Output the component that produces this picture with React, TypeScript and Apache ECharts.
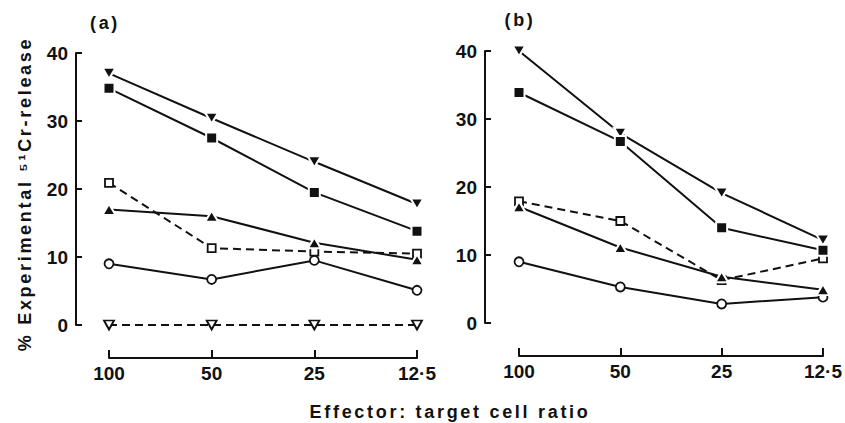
import React, { useEffect, useRef } from "react";
import * as echarts from "echarts";

const categories = ["100", "50", "25", "12·5"];

// Panel (a)
const aFilledDown = [37.0, 30.4, 24.0, 17.8];
const aFilledSquare = [34.8, 27.5, 19.5, 13.8];
const aOpenSquare = [20.9, 11.3, 10.8, 10.5];
const aFilledUp = [17.0, 16.0, 12.1, 9.6];
const aOpenCircle = [9.0, 6.7, 9.5, 5.1];
const aOpenDown = [0, 0, 0, 0];

// Panel (b)
const bFilledDown = [40.0, 27.9, 19.1, 12.2];
const bFilledSquare = [33.9, 26.7, 14.0, 10.7];
const bOpenSquare = [17.9, 15.0, 6.3, 9.5];
const bFilledUp = [17.1, 11.1, 6.8, 4.9];
const bOpenCircle = [9.0, 5.3, 2.8, 3.8];

const yMin = 0;
const yMax = 40;
const yInterval = 10;

const panelLabels = ["(a)", "(b)"];
const xTitle = "Effector: target cell ratio";
const yTitle = "% Experimental \u2075\u00b9Cr-release";

const INK = "#111";
const FONT = "Liberation Sans";

type Kind = "filledDown" | "filledSquare" | "filledUp" | "openSquare" | "openCircle" | "openDown";

function makeSeries(name: string, data: number[], grid: number, kind: Kind) {
  const filled = kind.startsWith("filled");
  const dashed = kind === "openSquare" || kind === "openDown";
  let symbol = "circle";
  let symbolSize: number | number[] = 9;
  let symbolRotate = 0;
  if (kind === "filledDown") { symbol = "triangle"; symbolSize = [13, 11]; symbolRotate = 180; }
  if (kind === "filledUp") { symbol = "triangle"; symbolSize = [13, 11]; }
  if (kind === "filledSquare") { symbol = "rect"; symbolSize = 11; }
  if (kind === "openSquare") { symbol = "rect"; symbolSize = 8; }
  if (kind === "openCircle") { symbol = "circle"; symbolSize = 9; }
  if (kind === "openDown") { symbol = "triangle"; symbolSize = [10, 9]; symbolRotate = 180; }
  return {
    name,
    type: "line",
    xAxisIndex: grid,
    yAxisIndex: grid,
    data,
    symbol,
    symbolSize,
    symbolRotate,
    showAllSymbol: true,
    clip: false,
    silent: true,
    emphasis: { disabled: true },
    lineStyle: { color: INK, width: 2, type: dashed ? [8, 5] : "solid" },
    itemStyle: filled
      ? { color: INK, borderColor: "#fff", borderWidth: 2 }
      : { color: "#fff", borderColor: INK, borderWidth: 1.8 },
    z: filled ? 3 : 2,
  };
}

const grids = [
  { left: 109, top: 53, width: 308, height: 272, yOffset: 33, xOffset: 33 },
  { left: 519, top: 51, width: 308, height: 272, yOffset: 34, xOffset: 33 },
];

export default function App() {
  const ref = useRef<HTMLDivElement>(null);
  useEffect(() => {
    if (!ref.current) return;
    const chart = echarts.init(ref.current, null, { renderer: "svg" });
    const option: any = {
      animation: false,
      backgroundColor: "#fff",
      grid: grids.map((g) => ({ left: g.left, top: g.top, width: g.width, height: g.height })),
      xAxis: grids.map((g, i) => ({
        type: "category",
        gridIndex: i,
        data: categories,
        boundaryGap: false,
        offset: g.xOffset,
        axisLine: { show: true, onZero: false, lineStyle: { color: INK, width: 2 } },
        axisTick: { show: true, inside: true, length: 8, lineStyle: { color: INK, width: 2 } },
        axisLabel: { color: INK, fontSize: 19, fontWeight: "bold", fontFamily: FONT, margin: 6 },
        splitLine: { show: false },
      })),
      yAxis: grids.map((g, i) => ({
        type: "value",
        gridIndex: i,
        min: yMin,
        max: yMax,
        interval: yInterval,
        offset: g.yOffset,
        axisLine: { show: true, onZero: false, lineStyle: { color: INK, width: 2 } },
        axisTick: { show: true, inside: true, length: 6, lineStyle: { color: INK, width: 2 } },
        axisLabel: { color: INK, fontSize: 19, fontWeight: "bold", fontFamily: FONT, margin: 8 },
        splitLine: { show: false },
      })),
      series: [
        makeSeries("a ▼", aFilledDown, 0, "filledDown"),
        makeSeries("a ■", aFilledSquare, 0, "filledSquare"),
        makeSeries("a □", aOpenSquare, 0, "openSquare"),
        makeSeries("a ▲", aFilledUp, 0, "filledUp"),
        makeSeries("a ○", aOpenCircle, 0, "openCircle"),
        makeSeries("a ▽", aOpenDown, 0, "openDown"),
        makeSeries("b ▼", bFilledDown, 1, "filledDown"),
        makeSeries("b ■", bFilledSquare, 1, "filledSquare"),
        makeSeries("b □", bOpenSquare, 1, "openSquare"),
        makeSeries("b ▲", bFilledUp, 1, "filledUp"),
        makeSeries("b ○", bOpenCircle, 1, "openCircle"),
      ],
      graphic: [
        {
          type: "text",
          x: 105,
          y: 23,
          style: { text: panelLabels[0], fill: INK, fontSize: 18, fontWeight: "bold", fontFamily: FONT, textAlign: "center", textVerticalAlign: "middle" },
        },
        {
          type: "text",
          x: 520,
          y: 20,
          style: { text: panelLabels[1], fill: INK, fontSize: 18, fontWeight: "bold", fontFamily: FONT, textAlign: "center", textVerticalAlign: "middle" },
        },
        {
          type: "text",
          x: 450,
          y: 412,
          style: { text: xTitle, fill: INK, fontSize: 18, fontWeight: "bold", fontFamily: FONT, textAlign: "center", textVerticalAlign: "middle" },
        },
        {
          type: "text",
          x: 25,
          y: 194,
          rotation: Math.PI / 2,
          style: { text: yTitle, fill: INK, fontSize: 18, fontWeight: "bold", fontFamily: FONT, textAlign: "center", textVerticalAlign: "middle" },
        },
      ],
    };
    chart.setOption(option);
    return () => chart.dispose();
  }, []);
  return (
    <>
      <style>{`body{margin:0} .chart text[style*="18px"]{letter-spacing:2.7px}`}</style>
      <div ref={ref} className="chart" style={{ width: 845, height: 423 }} />
    </>
  );
}
